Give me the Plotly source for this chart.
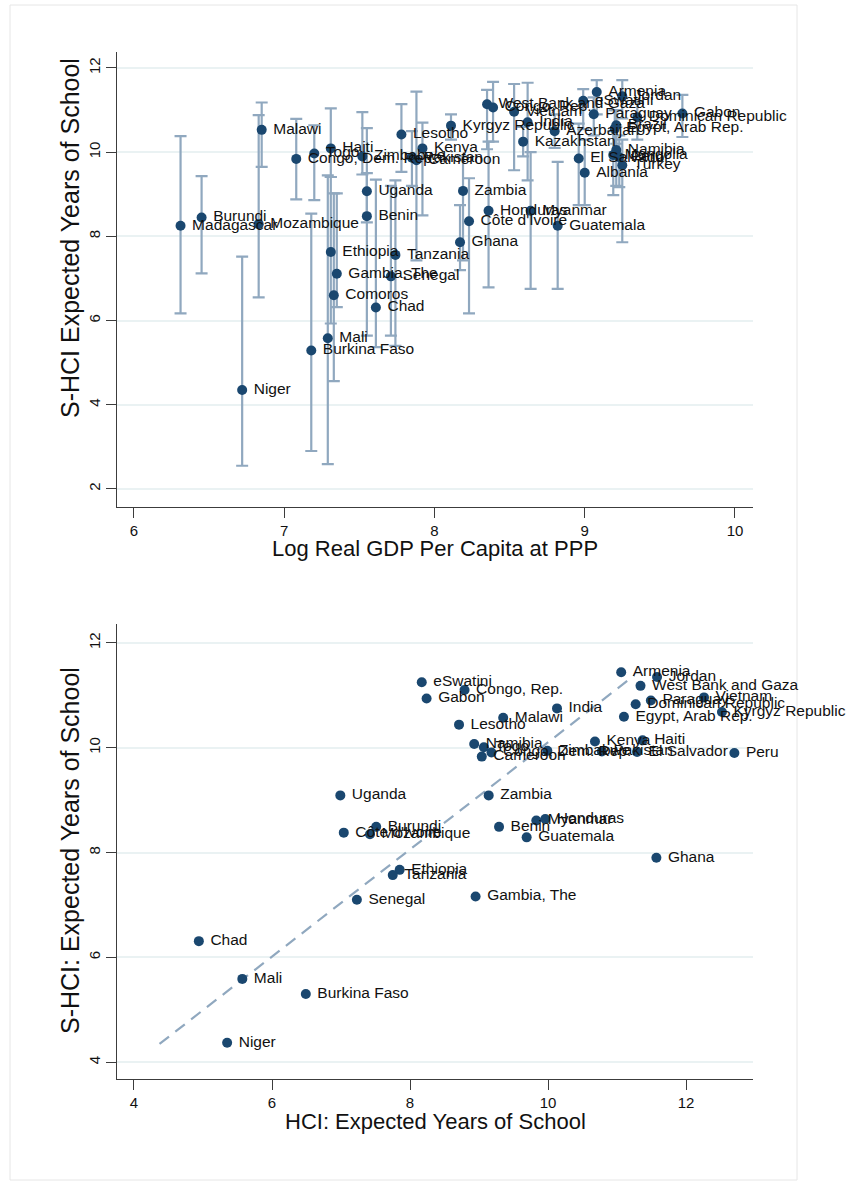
import plotly.graph_objects as go

# ---------------- Top panel data ----------------
top_names = ["Madagascar", "Burundi", "Mozambique", "Malawi", "Niger", "Congo, Dem. Rep.", "Togo", "Haiti",
             "Burkina Faso", "Mali", "Ethiopia", "Gambia, The", "Comoros", "Zimbabwe", "Uganda", "Benin",
             "Chad", "Tanzania", "Senegal", "Lesotho", "Kenya", "Pakistan", "Cameroon", "Kyrgyz Republic",
             "Zambia", "Côte d'Ivoire", "Ghana", "Honduras", "Myanmar", "Guatemala", "West Bank and Gaza",
             "Congo, Rep.", "Vietnam", "India", "Kazakhstan", "Azerbaijan", "eSwatini", "Armenia", "Jordan",
             "Paraguay", "Brazil", "Dominican Republic", "Egypt, Arab Rep.", "Gabon", "Namibia",
             "El Salvador", "Albania", "Mongolia", "Peru", "Turkey"]
top_gdp = [6.31, 6.45, 6.83, 6.85, 6.72, 7.08, 7.20, 7.31,
           7.18, 7.29, 7.31, 7.35, 7.33, 7.52, 7.55, 7.55,
           7.61, 7.74, 7.71, 7.78, 7.92, 7.85, 7.88, 8.11,
           8.19, 8.23, 8.17, 8.36, 8.64, 8.82, 8.35,
           8.39, 8.53, 8.62, 8.59, 8.80, 8.99, 9.08, 9.25,
           9.06, 9.21, 9.35, 9.20, 9.65, 9.21,
           8.96, 9.00, 9.19, 9.23, 9.25]
top_eys = [8.25, 8.45, 8.29, 10.53, 4.35, 9.84, 9.97, 10.09,
           5.29, 5.58, 7.63, 7.11, 6.60, 9.90, 9.07, 8.48,
           6.31, 7.56, 7.05, 10.42, 10.09, 9.87, 9.81, 10.63,
           9.08, 8.36, 7.86, 8.61, 8.61, 8.25, 11.14,
           11.06, 10.96, 10.71, 10.25, 10.50, 11.22, 11.43, 11.33,
           10.90, 10.64, 10.83, 10.56, 10.92, 10.05,
           9.85, 9.51, 9.93, 9.88, 9.69]
top_lo = [6.17, 7.12, 6.55, 9.65, 2.55, 8.88, 8.86, 9.41,
          2.90, 2.59, 5.93, 6.32, 4.56, 9.47, 8.33, 5.64,
          5.37, 5.40, 5.64, 9.53, 8.50, 9.20, 7.43, 10.30,
          7.43, 6.17, 7.20, 6.79, 6.75, 6.75, 10.07,
          10.25, 9.57, 9.33, 9.90, 10.10, 10.55, 10.90, 10.80,
          10.40, 10.20, 10.30, 10.00, 10.36, 9.20,
          8.74, 8.74, 8.98, 9.17, 7.86]
top_hi = [10.38, 9.43, 10.88, 11.18, 7.52, 10.79, 10.64, 11.04,
          8.54, 9.45, 9.41, 9.02, 9.02, 10.95, 10.57, 9.50,
          9.35, 9.33, 9.20, 11.14, 10.70, 10.50, 11.44, 10.90,
          9.90, 9.38, 8.74, 10.25, 10.00, 9.77, 11.48,
          11.67, 11.62, 11.65, 10.60, 10.90, 11.50, 11.71, 11.71,
          11.30, 11.00, 11.20, 11.00, 11.36, 10.60,
          10.68, 10.30, 10.50, 10.40, 10.30]

# ---------------- Bottom panel data ----------------
bot_names = ["eSwatini", "Congo, Rep.", "Gabon", "India", "Malawi", "Lesotho", "Armenia", "Jordan",
             "West Bank and Gaza", "Vietnam", "Paraguay", "Dominican Republic", "Kyrgyz Republic",
             "Egypt, Arab Rep.", "Kenya", "Haiti", "Namibia", "Togo", "Congo, Dem. Rep.", "Cameroon",
             "Zimbabwe", "Pakistan", "El Salvador", "Peru", "Zambia", "Uganda", "Burundi", "Côte d'Ivoire",
             "Mozambique", "Benin", "Myanmar", "Honduras", "Guatemala", "Ghana", "Ethiopia", "Tanzania",
             "Senegal", "Gambia, The", "Chad", "Mali", "Burkina Faso", "Niger"]
bot_hci = [8.17, 8.79, 8.24, 10.13, 9.35, 8.71, 11.06, 11.58,
           11.34, 12.26, 11.49, 11.27, 12.52,
           11.10, 10.68, 11.37, 8.93, 9.07, 9.18, 9.04,
           9.99, 10.78, 11.29, 12.70, 9.14, 6.99, 7.51, 7.04,
           7.42, 9.29, 9.83, 9.96, 9.69, 11.57, 7.85, 7.75,
           7.23, 8.95, 4.94, 5.57, 6.49, 5.35]
bot_shci = [11.25, 11.10, 10.94, 10.75, 10.57, 10.44, 11.44, 11.35,
            11.18, 10.96, 10.90, 10.83, 10.68,
            10.59, 10.12, 10.14, 10.07, 10.01, 9.91, 9.83,
            9.94, 9.93, 9.92, 9.90, 9.09, 9.09, 8.49, 8.38,
            8.35, 8.49, 8.61, 8.64, 8.29, 7.90, 7.67, 7.57,
            7.10, 7.16, 6.31, 5.59, 5.30, 4.37]
fit_x = [4.37, 11.25]
fit_y = [4.35, 11.38]

# ---------------- Styles ----------------
NAVY = "#1a476f"
BAR = "#90a8bf"
GRID = "#eaf2f3"
AXC = "#3c3c3c"
FONT = "Liberation Sans, Arial, sans-serif"
PAD = "\u00a0"

fig = go.Figure()

err_plus = [h - y for h, y in zip(top_hi, top_eys)]
err_minus = [y - l for y, l in zip(top_eys, top_lo)]

fig.add_trace(go.Scatter(
    x=top_gdp, y=top_eys, mode="markers",
    marker=dict(size=2, color="rgba(0,0,0,0)"),
    error_y=dict(type="data", symmetric=False, array=err_plus, arrayminus=err_minus,
                 color=BAR, thickness=2.2, width=6),
    xaxis="x", yaxis="y", hoverinfo="skip", showlegend=False))

fig.add_trace(go.Scatter(
    x=top_gdp, y=top_eys, mode="markers+text", text=[PAD + n for n in top_names],
    textposition="middle right", textfont=dict(size=15.5, color="#111111", family=FONT),
    marker=dict(size=10, color=NAVY), cliponaxis=False,
    xaxis="x", yaxis="y", showlegend=False))

fig.add_trace(go.Scatter(
    x=fit_x, y=fit_y, mode="lines",
    line=dict(color=BAR, width=2.2, dash="12px,8px"),
    xaxis="x2", yaxis="y2", hoverinfo="skip", showlegend=False))

fig.add_trace(go.Scatter(
    x=bot_hci, y=bot_shci, mode="markers+text", text=[PAD + n for n in bot_names],
    textposition="middle right", textfont=dict(size=15.5, color="#111111", family=FONT),
    marker=dict(size=10, color=NAVY), cliponaxis=False,
    xaxis="x2", yaxis="y2", showlegend=False))

W, H = 846, 1186
def px(v):
    return v / W
def py(v):
    return 1 - v / H

axis_common = dict(showline=True, linecolor=AXC, linewidth=1.3, ticks="outside", ticklen=10,
                   tickcolor=AXC, tickwidth=1.3, zeroline=False,
                   tickfont=dict(size=15, color="#111111", family=FONT))

fig.update_layout(
    width=W, height=H, margin=dict(l=0, r=0, t=0, b=0),
    paper_bgcolor="white", plot_bgcolor="white",
    font=dict(family=FONT),
    xaxis=dict(domain=[px(117), px(753)], anchor="y", range=[5.887, 10.12],
               tickvals=[6, 7, 8, 9, 10], showgrid=False, **axis_common),
    yaxis=dict(domain=[py(507), py(52)], anchor="x", range=[1.57, 12.38],
               tickvals=[2, 4, 6, 8, 10, 12], showgrid=True, gridcolor=GRID, gridwidth=2,
               tickangle=-90, **axis_common),
    xaxis2=dict(domain=[px(117), px(753)], anchor="y2", range=[3.754, 12.97],
                tickvals=[4, 6, 8, 10, 12], showgrid=False, **axis_common),
    yaxis2=dict(domain=[py(1079), py(624)], anchor="x2", range=[3.68, 12.36],
                tickvals=[4, 6, 8, 10, 12], showgrid=True, gridcolor=GRID, gridwidth=2,
                tickangle=-90, **axis_common),
)

xt_font = dict(size=22, color="#111111", family=FONT)
yt_font = dict(size=25, color="#111111", family=FONT)
fig.add_annotation(text="Log Real GDP Per Capita at PPP", x=px(435), y=py(548), xref="paper", yref="paper",
                   showarrow=False, font=xt_font, xanchor="center", yanchor="middle")
fig.add_annotation(text="S-HCI Expected Years of School", x=px(70), y=py(238), xref="paper", yref="paper",
                   showarrow=False, font=yt_font, textangle=-90, xanchor="center", yanchor="middle")
fig.add_annotation(text="HCI: Expected Years of School", x=px(435), y=py(1121), xref="paper", yref="paper",
                   showarrow=False, font=xt_font, xanchor="center", yanchor="middle")
fig.add_annotation(text="S-HCI: Expected Years of School", x=px(70), y=py(851), xref="paper", yref="paper",
                   showarrow=False, font=yt_font, textangle=-90, xanchor="center", yanchor="middle")

fig.add_shape(type="rect", xref="paper", yref="paper", x0=px(10), x1=px(797), y0=py(1180), y1=py(5),
              line=dict(color="#e6e6e6", width=1), fillcolor="rgba(0,0,0,0)", layer="below")

fig.write_html("out.html")
